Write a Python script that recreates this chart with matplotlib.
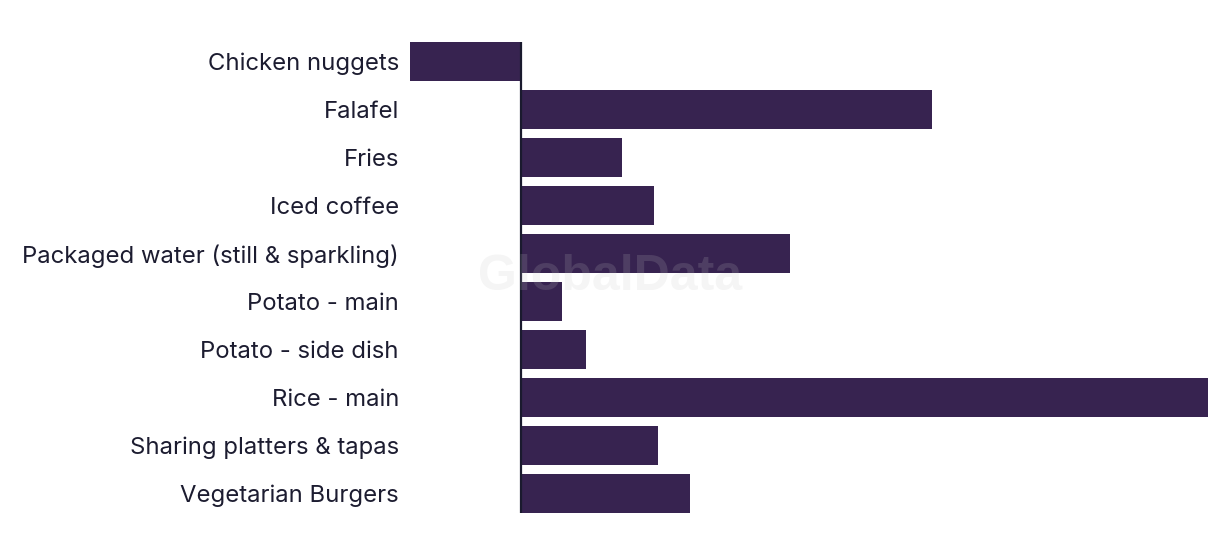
import matplotlib
matplotlib.use("Agg")
import matplotlib.pyplot as plt

# dishes and their values (arbitrary units)
dishes = ["Chicken nuggets", "Falafel", "Fries", "Iced coffee",
          "Packaged water (still & sparkling)", "Potato - main",
          "Potato - side dish", "Rice - main", "Sharing platters & tapas",
          "Vegetarian Burgers"]
values = [-11.1, 41.1, 10.1, 13.3, 26.9, 4.1, 6.5, 68.7, 13.7, 16.9]

bar_color = "#372350"
text_color = "#1c1c30"

fig = plt.figure(figsize=(12.2, 5.56), dpi=100)
ax = fig.add_axes([410/1220, 1-513/556, (1208-410)/1220, (513-42)/556])

ypos = list(range(len(dishes)))
ax.barh(ypos, values, height=0.81, color=bar_color)
ax.set_ylim(len(dishes) - 1 + 0.405, -0.405)
ax.set_xlim(min(values), max(values))
ax.axvline(0, color="#1a1a2e", linewidth=1.6)

ax.set_yticks(ypos)
ax.set_yticklabels(dishes, fontsize=17.2, color=text_color, family="Inter")
ax.tick_params(axis="y", length=0, pad=8)
ax.set_xticks([])
for s in ax.spines.values():
    s.set_visible(False)

fig.text(610/1220, 1-277/556, "GlobalData", fontsize=36, fontweight="bold",
         color=(196/255, 196/255, 196/255), alpha=0.17,
         ha="center", va="center", family="Liberation Sans", zorder=10)

fig.savefig("out.png", dpi=100)
